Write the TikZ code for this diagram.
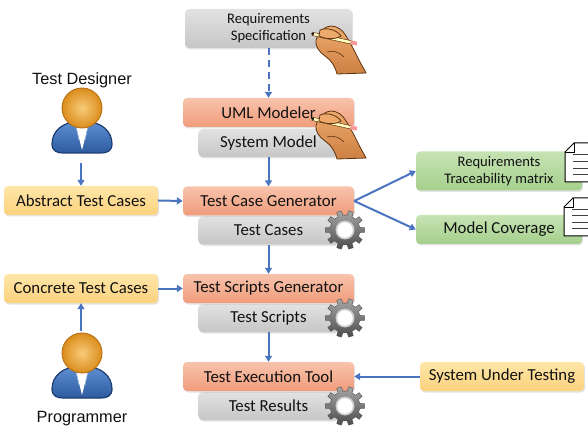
\documentclass[tikz,border=0pt]{standalone}
\usepackage{fontspec}
\setmainfont{Carlito}
\newfontfamily\arialfont{Liberation Sans}
\usetikzlibrary{arrows.meta,shadows}

\definecolor{flowblue}{HTML}{4A74C0}
\definecolor{txt}{HTML}{111111}
\definecolor{orgtop}{HTML}{F8C3AC}
\definecolor{orgbot}{HTML}{F09C7B}
\definecolor{graytop}{HTML}{E2E2E2}
\definecolor{graybot}{HTML}{C6C6C6}
\definecolor{yeltop}{HTML}{FEE6A8}
\definecolor{yelbot}{HTML}{FCD27E}
\definecolor{grntop}{HTML}{C6E3B4}
\definecolor{grnbot}{HTML}{A5CF8C}
\definecolor{skin}{HTML}{EDAA6C}
\definecolor{skindark}{HTML}{CD8043}
\definecolor{skinline}{HTML}{5E3512}
\definecolor{headin}{HTML}{F8CB7A}
\definecolor{headout}{HTML}{DB8D1C}
\definecolor{headline}{HTML}{B36F10}
\definecolor{bodytop}{HTML}{5E8ED2}
\definecolor{bodybot}{HTML}{2D5A9E}
\definecolor{bodyline}{HTML}{1D3D72}

\tikzset{
  basebox/.style={rounded corners=4pt, inner sep=0pt, align=center, text=txt,
    font=\fontsize{16.8}{18}\selectfont,
    drop shadow={shadow xshift=1pt, shadow yshift=-1.5pt, opacity=0.22}},
  orangebox/.style={basebox, top color=orgtop, bottom color=orgbot,
    minimum width=171pt, minimum height=29pt},
  graybox/.style={basebox, top color=graytop, bottom color=graybot,
    minimum width=140pt, minimum height=28pt},
  yellowbox/.style={basebox, top color=yeltop, bottom color=yelbot,
    minimum height=29pt},
  greenbox/.style={basebox, top color=grntop, bottom color=grnbot,
    minimum width=166pt},
  smalltext/.style={font=\fontsize{14.6}{17}\selectfont},
  flow/.style={draw=flowblue, line width=2pt,
    -{Triangle[length=6pt,width=7pt]}},
  rolelabel/.style={font=\arialfont\fontsize{16.3}{18}\selectfont, text=txt}
}

% gear wheel centred at #1
\newcommand\drawgear[1]{%
  \begin{scope}[shift={#1}]
    \shade[top color=gray!70, bottom color=gray!60!black, draw=black!70, line width=0.4pt]
      (-10:15) \foreach \a in {0,36,...,324}
        { -- (\a-10:15) -- (\a-7:19.5) -- (\a+7:19.5) -- (\a+10:15)
          arc[start angle=\a+10, end angle=\a+26, radius=15] } -- cycle;
    \fill[gray!40] (0,0) circle (9.5);
    \fill[white] (0,0) circle (7.8);
  \end{scope}}

% hand holding a pencil, top-left corner at #1
\newcommand\drawhand[1]{%
  \begin{scope}[shift={#1}]
    \shade[top color=skin, bottom color=skindark, draw=skinline, line width=0.8pt]
      (5,14) .. controls (8,6) and (14,0) .. (20,0)
      .. controls (26,0) and (32,4) .. (35,10)
      .. controls (40,18) and (44,26) .. (48,34)
      .. controls (50,38) and (53,43) .. (55,47) -- (26,48)
      .. controls (24,40) and (20,34) .. (14,30)
      .. controls (8,26) and (4,20) .. (5,14) -- cycle;
    \draw[skinline, line width=0.6pt] (16,26) .. controls (22,24) and (28,26) .. (33,31);
    \draw[line width=3.8pt, color=skinline] (1,7.8) -- (40,16.4);
    \draw[line width=2.6pt, color=yellow!25!white] (2,8) -- (39.6,16.3);
    \draw[line width=4pt, color=red!40!white] (39.6,16.3) -- (46,17.7);
    \fill[black] (0,7.2) -- (3,7.1) -- (2.5,9.2) -- cycle;
    \filldraw[fill=skin, draw=skinline, line width=0.8pt]
      (9,4) .. controls (16,1) and (26,4) .. (30,10)
      .. controls (24,14) and (14,13) .. (8,10) -- cycle;
  \end{scope}}

% user icon, head centred at #1
\newcommand\drawperson[1]{%
  \begin{scope}[shift={#1}]
    \shade[top color=bodytop, bottom color=bodybot, draw=bodyline, line width=1.2pt]
      (-30,36) .. controls (-30,22) and (-18,15) .. (-8,14) -- (8,14)
      .. controls (18,15) and (30,22) .. (30,36)
      .. controls (30,43) and (25,45) .. (19,45) -- (-19,45)
      .. controls (-25,45) and (-30,43) .. (-30,36) -- cycle;
    \fill[white] (-7,14) -- (0,42) -- (7,14) -- cycle;
    \draw[bodytop!60!white, line width=0.7pt] (-7,14) -- (-3,32) (7,14) -- (3,32);
    \shade[inner color=headin, outer color=headout] (0,0) circle (20);
    \draw[headline, line width=0.9pt] (0,0) circle (20);
  \end{scope}}

% page icon with folded corner
\newcommand\drawpage[2]{%
  \begin{scope}[shift={#1}]
    \filldraw[fill=white, draw=black, line width=1pt]
      (9,0) -- (36,0) -- (36,#2) -- (0,#2) -- (0,9) -- cycle;
    \draw[black, line width=0.8pt] (0,9) -- (9,9) -- (9,0);
    \foreach \yy in {0.3,0.47,0.64,0.81}
      \draw[black!75, line width=0.9pt] (8,\yy*#2) -- (36,\yy*#2);
  \end{scope}}

\begin{document}
\begin{tikzpicture}[x=1pt,y=-1pt]
\useasboundingbox (0,0) rectangle (588,427);
\clip (0,0) rectangle (588,427);

% central tool chain
\node[graybox, smalltext, minimum width=167pt, minimum height=39pt] (req) at (268.5,28.5) {Requirements\\Specification};
\node[graybox] (sysm) at (268.5,143) {System Model};
\node[orangebox] (uml) at (268.5,112.5) {UML Modeler};
\node[graybox] (tcases) at (268.5,230.5) {Test Cases};
\node[orangebox] (tcg) at (268.5,201) {Test Case Generator};
\node[graybox] (tscripts) at (268.5,318) {Test Scripts};
\node[orangebox] (tsg) at (268.5,288.5) {Test Scripts Generator};
\node[graybox] (tres) at (268.5,406) {Test Results};
\node[orangebox] (tet) at (268.5,376.5) {Test Execution Tool};

% inputs and outputs
\node[yellowbox, minimum width=154pt] (abs) at (81,200.5) {Abstract Test Cases};
\node[yellowbox, minimum width=154pt] (conc) at (81,288.5) {Concrete Test Cases};
\node[yellowbox, minimum width=164pt] (sut) at (502,376.5) {System Under Testing};
\node[greenbox, smalltext, minimum height=39pt] (rtm) at (499,171) {Requirements\\Traceability matrix};
\node[greenbox, minimum height=29pt] (mc) at (499,229.5) {Model Coverage};

% roles
\node[rolelabel] (designerlabel) at (82,80) {Test Designer};
\node[rolelabel] (programmerlabel) at (82,419) {Programmer};
\drawperson{(82,108)}
\drawperson{(82,353)}
\coordinate (designer) at (81,163);
\coordinate (programmer) at (81,331);

% icons
\drawhand{(311,26)}
\drawhand{(311,111)}
\drawgear{(345,230)}
\drawgear{(345,318)}
\drawgear{(345,406)}
\drawpage{(565,143)}{39}
\drawpage{(564,198)}{38}

% connectors
\draw[flow, dash pattern=on 7pt off 5pt] (req.south) -- (uml.north);
\draw[flow] (sysm.south) -- (tcg.north);
\draw[flow] (tcases.south) -- (tsg.north);
\draw[flow] (tscripts.south) -- (tet.north);
\draw[flow] (abs.east) -- (tcg.west);
\draw[flow] (conc.east) -- (tsg.west);
\draw[flow] (sut.west) -- (tet.east);
\draw[flow] (tcg.east) -- (rtm.west);
\draw[flow] (tcg.east) -- (mc.west);
\draw[flow] (designer) -- (abs.north);
\draw[flow] (programmer) -- (conc.south);
\end{tikzpicture}
\end{document}
